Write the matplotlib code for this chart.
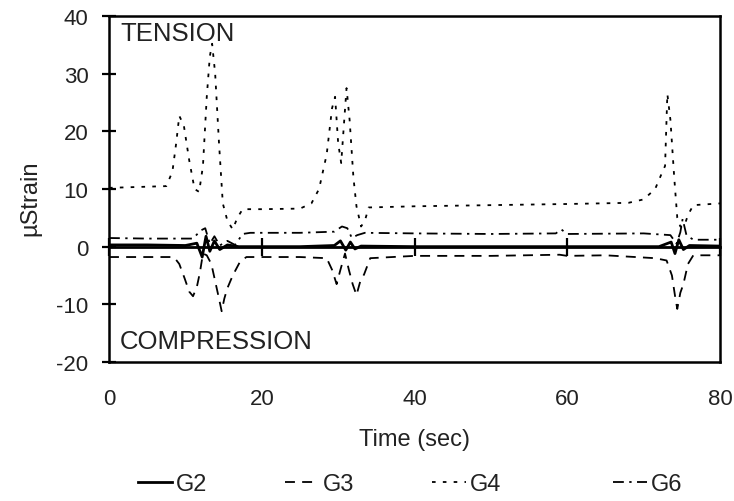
import matplotlib
matplotlib.use("Agg")
import matplotlib.pyplot as plt
from matplotlib.lines import Line2D

# ---- data ----
g2_t = [0, 5, 10, 11.5, 12.2, 12.7, 13.2, 13.8, 14.5, 15.5, 17, 25, 29.5, 30.3, 31.0, 31.6, 32.2, 33, 40, 60, 72, 73.6, 74.1, 74.6, 75.2, 76, 80]
g2_v = [0.3, 0.3, 0.2, 0.6, -1.8, 1.8, -0.8, 1.0, -0.5, 0.3, 0.0, 0.0, 0.2, 1.0, -0.6, 0.8, -0.4, 0.1, 0.0, 0.0, 0.0, 0.8, -1.2, 1.2, -0.5, 0.2, 0.1]

g3_t = [0, 8.5, 9.2, 9.9, 10.5, 11.0, 11.5, 11.9, 12.3, 12.8, 13.4, 13.9, 14.4, 14.75, 15.1, 15.5, 16.2, 17.2, 18, 25, 28.5, 29.2, 29.8, 30.3, 30.9, 31.4, 31.9, 32.4, 32.9, 33.4, 34.2, 40, 50, 59, 60, 65, 71.5, 73.0, 73.7, 74.1, 74.4, 74.8, 75.2, 75.8, 76.5, 80]
g3_v = [-1.8, -1.8, -3.0, -5.5, -7.8, -8.6, -7.0, -4.5, -1.2, -1.5, -3.0, -6.0, -9.0, -11.2, -9.0, -7.2, -5.0, -2.5, -1.8, -1.8, -2.0, -4.0, -6.5, -4.0, -1.2, -4.0, -6.5, -8.4, -6.0, -4.8, -2.0, -1.6, -1.6, -1.4, -1.6, -1.5, -2.0, -2.4, -5.0, -8.5, -10.8, -8.0, -6.5, -3.0, -1.5, -1.5]

g4_t = [0, 7.5, 8.3, 8.8, 9.2, 9.8, 10.5, 11.2, 11.8, 12.3, 12.8, 13.2, 13.5, 13.9, 14.4, 14.9, 15.5, 16.2, 16.8, 17.5, 20, 25, 26.5, 27.5, 28.5, 29.2, 29.6, 30.0, 30.4, 30.8, 31.1, 31.5, 32.0, 32.4, 33.0, 33.5, 34.0, 40, 50, 60, 68, 70, 71.5, 72.3, 72.8, 73.1, 73.5, 74.0, 74.4, 74.8, 75.3, 75.8, 76.5, 80]
g4_v = [10.2, 10.5, 13.0, 18.0, 22.7, 21.0, 15.0, 10.0, 9.5, 14.0, 26.0, 33.0, 35.2, 30.0, 18.0, 7.5, 4.5, 3.0, 5.0, 6.5, 6.5, 6.6, 7.5, 10.0, 16.0, 24.0, 26.0, 18.0, 14.5, 22.0, 27.5, 22.0, 12.0, 7.0, 3.5, 4.5, 6.8, 7.0, 7.2, 7.4, 7.6, 8.2, 10.0, 12.5, 14.0, 26.5, 22.0, 12.0, 5.0, 3.5, 3.5, 5.5, 7.2, 7.5]

g6_t = [0, 5, 11, 12.0, 12.6, 13.2, 13.8, 14.5, 15.5, 16.5, 17.5, 18.5, 25, 29.5, 30.5, 31.2, 31.8, 32.5, 33.5, 40, 50, 58.5, 59.2, 60, 70, 73.5, 74.3, 74.8, 75.1, 75.6, 76.5, 80]
g6_v = [1.5, 1.4, 1.4, 2.8, 3.2, 0.5, 1.8, 0.2, 1.0, 0.3, 2.2, 2.4, 2.4, 2.6, 3.5, 3.2, 1.5, 2.0, 2.4, 2.3, 2.2, 2.3, 3.0, 2.2, 2.3, 2.0, 0.5, 2.5, 4.8, 2.0, 1.2, 1.2]

series_names = ["G2", "G3", "G4", "G6"]
x_ticks = [0, 20, 40, 60, 80]
y_ticks = [-20, -10, 0, 10, 20, 30, 40]

# ---- styling ----
plt.rcParams['font.family'] = ['Liberation Sans', 'DejaVu Sans']
plt.rcParams['axes.unicode_minus'] = False
TXT = '#222222'

fig = plt.figure(figsize=(7.34, 5.02), dpi=100)
ax = fig.add_axes([0.1485, 0.277, 0.8325, 0.689])

lw = 1.3
styles = {
    "G2": dict(linestyle='-', linewidth=2.0),
    "G3": dict(linestyle=(0, (5.5, 4)), linewidth=lw),
    "G4": dict(linestyle=(0, (2.0, 4.0)), linewidth=lw),
    "G6": dict(linestyle=(0, (6, 3, 1.3, 3)), linewidth=lw),
}
data = {"G2": (g2_t, g2_v), "G3": (g3_t, g3_v), "G4": (g4_t, g4_v), "G6": (g6_t, g6_v)}

for name in ["G4", "G6", "G3", "G2"]:
    t, v = data[name]
    ax.plot(t, v, color='black', **styles[name])

ax.set_xlim(0, 80)
ax.set_ylim(-20, 40)

for s in ax.spines.values():
    s.set_linewidth(1.8)
    s.set_color('black')

ax.set_yticks(y_ticks)
ax.set_xticks(x_ticks)
ax.tick_params(axis='y', direction='inout', length=9.5, width=1.6, pad=10,
               labelsize=16, labelcolor=TXT)
ax.tick_params(axis='x', length=0, pad=19, labelsize=16, labelcolor=TXT)

# zero axis with crossing tick marks
sec = ax.secondary_xaxis(1/3)
sec.set_xticks(x_ticks)
sec.tick_params(direction='inout', length=13, width=1.6, labelbottom=False, labeltop=False)
sec.spines['bottom'].set_linewidth(2.0)

ax.set_xlabel("Time (sec)", fontsize=17, color=TXT)
ax.xaxis.set_label_coords(0.5, -0.223)
ax.xaxis.label.set_va('center')
ax.set_ylabel("µStrain", fontsize=17, color=TXT)
ax.yaxis.set_label_coords(-0.128, 0.475)
ax.yaxis.label.set_va('center')

ax.text(0.018, 0.951, "TENSION", transform=ax.transAxes, fontsize=18.5, color=TXT,
        ha='left', va='center')
ax.text(0.018, 0.062, "COMPRESSION", transform=ax.transAxes, fontsize=18.5, color=TXT,
        ha='left', va='center')

# legend entries placed individually (uneven spacing as in the reference)
legend_left_px = [138, 285, 432, 613]
for name, xpx in zip(series_names, legend_left_px):
    h = Line2D([], [], color='black', **styles[name])
    leg = fig.legend([h], [name], loc='center left', bbox_to_anchor=(xpx / 734, 0.034),
                     frameon=False, fontsize=17, handlelength=1.45, handletextpad=0.17,
                     borderpad=0, borderaxespad=0)
    for txt in leg.get_texts():
        txt.set_color(TXT)

fig.savefig("out.png", dpi=100)
